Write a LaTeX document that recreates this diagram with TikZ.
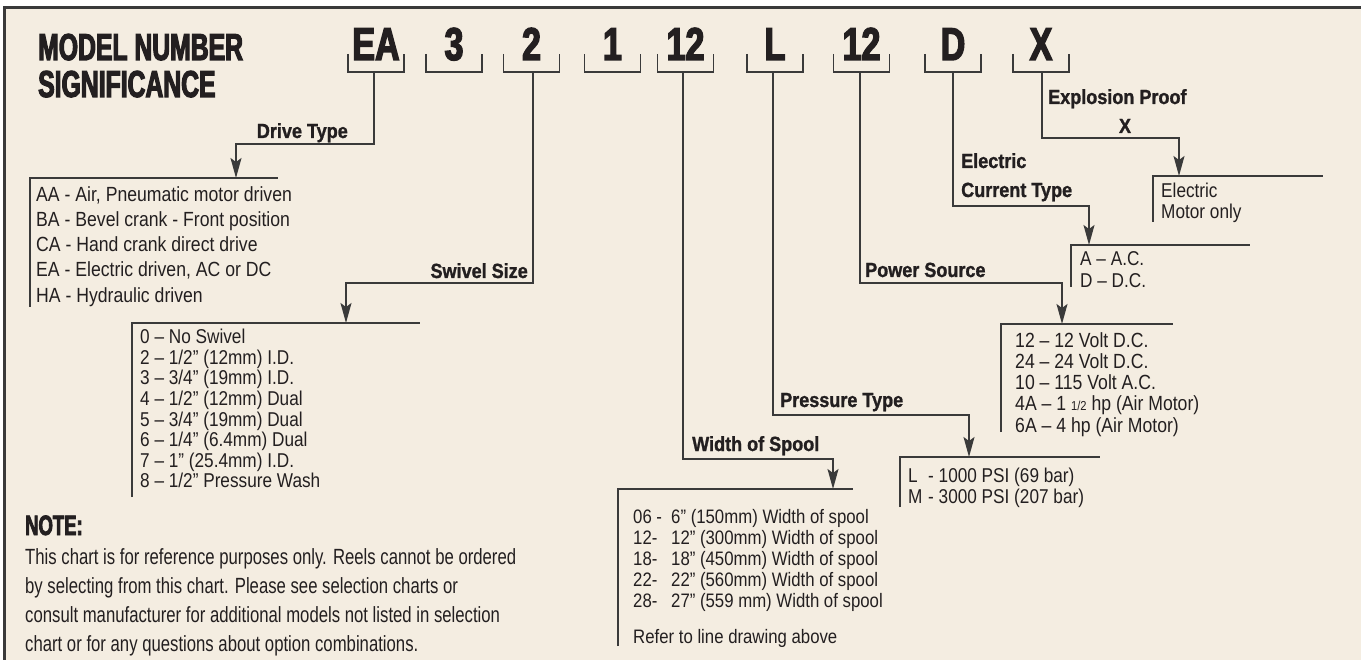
\documentclass[tikz,border=0pt]{standalone}
\usepackage{fontspec}
\setmainfont{Liberation Sans}
\newfontfamily\listf{Liberation Sans}[FakeStretch=0.86]
\newfontfamily\notef{Liberation Sans}[FakeStretch=0.76]
\newfontfamily\labf{Liberation Sans}[FakeStretch=0.88,FakeBold=1.2]
\newfontfamily\titlef{Liberation Sans}[FakeStretch=0.66,FakeBold=3]
\newfontfamily\codef{Liberation Sans}[FakeStretch=0.74,FakeBold=3]
\usetikzlibrary{arrows.meta}
\definecolor{bg}{HTML}{F4EDE1}
\definecolor{ink}{HTML}{231F20}
\definecolor{lnc}{HTML}{3A3A3A}
\tikzset{
  lnk/.style={draw=lnc, line width=1.5pt},
  conn/.style={lnk, -{Stealth[length=20pt,width=11pt,inset=4pt]}},
  code/.style={font=\codef\bfseries\fontsize{46}{46}\selectfont, text=ink, inner sep=0pt, anchor=base},
  ttl/.style={font=\titlef\bfseries\fontsize{37.5}{37.5}\selectfont, text=ink, inner sep=0pt, anchor=base west},
  lab/.style={font=\labf\bfseries\fontsize{20.5}{20.5}\selectfont, text=ink, inner sep=0pt},
  lst/.style={font=\listf\fontsize{20}{#1}\selectfont, text=ink, inner sep=0pt, anchor=north west, align=left},
  lst/.default=21,
}
\begin{document}
\begin{tikzpicture}[x=1pt,y=-1pt]
\useasboundingbox (0,0) rectangle (1361,660);
\fill[white] (0,0) rectangle (1361,660);
\filldraw[fill=bg, draw=lnc, line width=3pt] (4,8) rectangle (1370,670);

% title
\node[ttl] (t1) at (38,60) {MODEL NUMBER};
\node[ttl] (t2) at (38,97) {SIGNIFICANCE};

% codes
\node[code] (cEA) at (376,60) {EA};
\node[code] (c3) at (454,60) {3};
\node[code] (c2) at (531.5,60) {2};
\node[code] (c1) at (612.5,60) {1};
\node[code] (c12a) at (685.5,60) {12};
\node[code] (cL) at (775,60) {L};
\node[code] (c12b) at (861.5,60) {12};
\node[code] (cD) at (953,60) {D};
\node[code] (cX) at (1041,60) {X};

% brackets under codes
\foreach \x in {376,454,531.5,612.5,685.5,775,861.5,953,1041}
  \draw[lnk] (\x-28,54) -- (\x-28,72) -- (\x+28,72) -- (\x+28,54);

% stem, corner and tip coordinates
\coordinate (sEA) at (374,72);   \coordinate (kEA) at (374,144);   \coordinate (tDrive) at (236,178);
\coordinate (s2) at (533,72);    \coordinate (k2) at (533,283);    \coordinate (tSwivel) at (346,323);
\coordinate (s12a) at (683,72);  \coordinate (k12a) at (683,459);  \coordinate (tWidth) at (833,489);
\coordinate (sL) at (773,72);    \coordinate (kL) at (773,415);    \coordinate (tPress) at (969,457);
\coordinate (s12b) at (860,72);  \coordinate (k12b) at (860,283);  \coordinate (tPower) at (1062,324);
\coordinate (sD) at (953,72);    \coordinate (kD) at (953,206);    \coordinate (tCur) at (1089,245);
\coordinate (sX) at (1042,72);   \coordinate (kX) at (1042,138);   \coordinate (tExp) at (1179,176);

% connectors
\draw[conn] (sEA) -- (kEA) -| (tDrive);
\draw[conn] (s2) -- (k2) -| (tSwivel);
\draw[conn] (s12a) -- (k12a) -| (tWidth);
\draw[conn] (sL) -- (kL) -| (tPress);
\draw[conn] (s12b) -- (k12b) -| (tPower);
\draw[conn] (sD) -- (kD) -| (tCur);
\draw[conn] (sX) -- (kX) -| (tExp);

% labels
\node[lab, anchor=base east] (lbDrive) at (348,138) {Drive Type};
\node[lab, anchor=base east] (lbSwivel) at (528,278) {Swivel Size};
\node[lab, anchor=base west] (lbWidth) at (692,451) {Width of Spool};
\node[lab, anchor=base west] (lbPress) at (780,407) {Pressure Type};
\node[lab, anchor=base west] (lbPower) at (865,277) {Power Source};
\node[lab, anchor=base west] (lbElec) at (961,168) {Electric};
\node[lab, anchor=base west] (lbCur) at (961,197) {Current Type};
\node[lab, anchor=base west] (lbExp) at (1048,104) {Explosion Proof};
\node[lab, anchor=base] (lbX) at (1125,133) {X};

% list frames
\draw[lnk] (30,307) -- (30,178) -- (278,178);
\draw[lnk] (132,497) -- (132,323) -- (420,323);
\draw[lnk] (618,646) -- (618,489) -- (853,489);
\draw[lnk] (900,507) -- (900,457) -- (1100,457);
\draw[lnk] (1001,432) -- (1001,324) -- (1173,324);
\draw[lnk] (1071,287) -- (1071,245) -- (1250,245);
\draw[lnk] (1153,222) -- (1153,176) -- (1323,176);

% lists
\node[lst=25.3, font=\listf\fontsize{20.5}{25.3}\selectfont] (lDrive) at (36,186) {AA - Air, Pneumatic motor driven\\BA - Bevel crank - Front position\\CA - Hand crank direct drive\\EA - Electric driven, AC or DC\\HA - Hydraulic driven};
\node[lst=20.6] (lSwivel) at (140,329) {0 – No Swivel\\2 – 1/2” (12mm) I.D.\\3 – 3/4” (19mm) I.D.\\4 – 1/2” (12mm) Dual\\5 – 3/4” (19mm) Dual\\6 – 1/4” (6.4mm) Dual\\7 – 1” (25.4mm) I.D.\\8 – 1/2” Pressure Wash};
\node[lst=21, font=\listf\fontsize{19.5}{21}\selectfont] (lWidth) at (633,509) {\makebox[38pt][l]{06 -}6” (150mm) Width of spool\\\makebox[38pt][l]{12-}12” (300mm) Width of spool\\\makebox[38pt][l]{18-}18” (450mm) Width of spool\\\makebox[38pt][l]{22-}22” (560mm) Width of spool\\\makebox[38pt][l]{28-}27” (559 mm) Width of spool};
\node[lst, font=\listf\fontsize{19.5}{21}\selectfont] (lRefer) at (633,629) {Refer to line drawing above};
\node[lst=21] (lPress) at (908,468) {\makebox[20pt][l]{L}- 1000 PSI (69 bar)\\\makebox[20pt][l]{M}- 3000 PSI (207 bar)};
\node[lst=21.3, font=\listf\fontsize{20.5}{21.3}\selectfont] (lPower) at (1015,332) {12 – 12 Volt D.C.\\24 – 24 Volt D.C.\\10 – 115 Volt A.C.\\4A – 1 {\fontsize{13}{13}\selectfont 1/2} hp (Air Motor)\\6A – 4 hp (Air Motor)};
\node[lst=22] (lCur) at (1080,251) {A – A.C.\\D – D.C.};
\node[lst=21] (lExp) at (1161,183) {Electric\\Motor only};

% note
\node[ttl, font=\titlef\bfseries\fontsize{28}{28}\selectfont] (nNote) at (25,535) {NOTE:};
\node[lst=29, font=\notef\fontsize{22}{29}\selectfont] (nText) at (25,548) {This chart is for reference purposes only. Reels cannot be ordered\\by selecting from this chart. Please see selection charts or\\consult manufacturer for additional models not listed in selection\\chart or for any questions about option combinations.};
\end{tikzpicture}
\end{document}
